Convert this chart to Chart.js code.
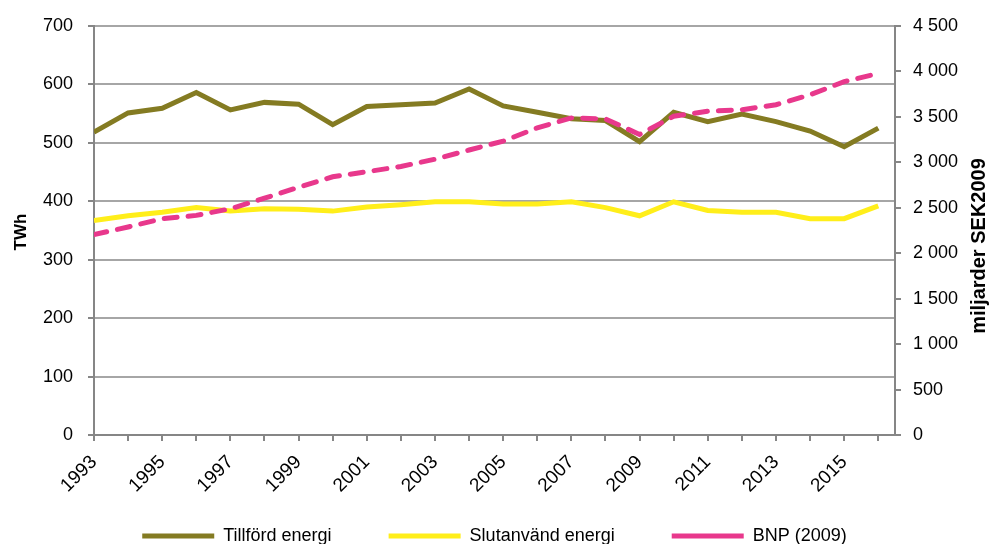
<!DOCTYPE html>
<html>
<head>
<meta charset="utf-8">
<script src="https://cdn.jsdelivr.net/npm/chart.js@4"></script>
<style>
  html, body { margin: 0; padding: 0; background: #fff; }
  #wrap { width: 989px; height: 544px; }
</style>
</head>
<body>
<div id="wrap"><canvas id="energiChart" width="989" height="544"></canvas></div>
<script>
const years = [1993, 1994, 1995, 1996, 1997, 1998, 1999, 2000, 2001, 2002, 2003, 2004,
               2005, 2006, 2007, 2008, 2009, 2010, 2011, 2012, 2013, 2014, 2015, 2016];

// TWh
const tillford = [518, 551, 559, 586, 556, 569, 566, 531, 562, 565, 568, 592,
                  563, 552, 541, 538, 502, 552, 536, 549, 536, 520, 493, 525];
const slutanvand = [367, 375, 381, 389, 383, 387, 386, 383, 390, 394, 399, 399,
                    395, 395, 399, 389, 375, 399, 384, 381, 381, 370, 370, 392];

// miljarder SEK2009
const bnp = [2204, 2288, 2378, 2415, 2488, 2604, 2724, 2840, 2895, 2953, 3033, 3134,
             3232, 3378, 3487, 3476, 3305, 3505, 3560, 3577, 3632, 3741, 3886, 3975];

const seriesNames = ['Tillförd energi', 'Slutanvänd energi', 'BNP (2009)'];

const gridGray = '#a6a6a6';
const axisGray = '#868686';
const textFont = { family: '"Liberation Sans", Arial, sans-serif', size: 18 };

function pts(vals) {
    return vals.map((v, i) => ({ x: years[i], y: v }));
}

function sekFormat(v) {
    if (v < 1000) return String(v);
    return Math.floor(v / 1000) + ' ' + String(v % 1000).padStart(3, '0');
}

function drawRotated(ctx, text, font, x, y) {
    ctx.save();
    ctx.fillStyle = '#000';
    ctx.font = font;
    ctx.textAlign = 'center';
    ctx.textBaseline = 'middle';
    ctx.translate(x, y);
    ctx.rotate(-Math.PI / 2);
    ctx.fillText(text, 0, 0);
    ctx.restore();
}

// axis titles drawn by hand so the right one reads bottom-to-top like the original
const axisTitles = {
    id: 'axisTitles',
    beforeLayout(chart) {
        // fix legend box height once
        if (!chart.legend._patched) {
            const fit = chart.legend.fit;
            chart.legend.fit = function () {
                fit.call(this);
                this.height = 74;
            };
            chart.legend._patched = true;
        }
    },
    beforeDraw(chart) {
        // let the rotated year labels run below the x axis box
        chart.scales.x._computeLabelArea = () => undefined;
    },
    afterDraw(chart) {
        const ctx = chart.ctx;
        drawRotated(ctx, 'TWh', 'bold 17px "Liberation Sans", Arial, sans-serif', 21, 232);
        drawRotated(ctx, 'miljarder SEK2009', 'bold 20px "Liberation Sans", Arial, sans-serif', 979, 246);
    }
};

const ctx = document.getElementById('energiChart').getContext('2d');
const energiChart = new Chart(ctx, {
    type: 'line',
    data: {
        datasets: [{
            label: seriesNames[0],
            data: pts(tillford),
            borderColor: '#847b22',
            backgroundColor: '#847b22',
            borderWidth: 5,
            yAxisID: 'y',
            order: 1
        }, {
            label: seriesNames[1],
            data: pts(slutanvand),
            borderColor: '#ffee1a',
            backgroundColor: '#ffee1a',
            borderWidth: 5,
            yAxisID: 'y',
            order: 2
        }, {
            label: seriesNames[2],
            data: pts(bnp),
            borderColor: '#e8388c',
            backgroundColor: '#e8388c',
            borderWidth: 5,
            borderDash: [13, 11],
            borderCapStyle: 'round',
            yAxisID: 'y1',
            order: 0
        }]
    },
    options: {
        responsive: false,
        animation: false,
        maintainAspectRatio: false,
        layout: { padding: { top: 19, left: 0, right: 0, bottom: 0 } },
        elements: {
            point: { radius: 0, hoverRadius: 0 },
            line: { tension: 0, borderJoinStyle: 'miter' }
        },
        scales: {
            x: {
                type: 'linear',
                min: 1993,
                max: 2016.49,
                afterBuildTicks: (scale) => {
                    scale.ticks = years.map(y => ({ value: y }));
                },
                afterFit: (scale) => { scale.height = 35; },
                ticks: {
                    autoSkip: false,
                    minRotation: 45,
                    maxRotation: 45,
                    padding: 10,
                    color: '#000',
                    font: { family: textFont.family, size: 19 },
                    callback: (v) => (v % 2 === 1 ? String(v) : '')
                },
                grid: {
                    drawOnChartArea: false,
                    drawTicks: true,
                    tickLength: 6,
                    color: axisGray,
                    lineWidth: 2
                },
                border: { color: axisGray, width: 2 }
            },
            y: {
                position: 'left',
                min: 0,
                max: 700,
                afterFit: (scale) => { scale.width = 94; },
                ticks: {
                    stepSize: 100,
                    padding: 15,
                    color: '#000',
                    font: textFont
                },
                grid: {
                    color: gridGray,
                    lineWidth: 2,
                    tickLength: 6,
                    tickColor: axisGray
                },
                border: { color: axisGray, width: 2 }
            },
            y1: {
                position: 'right',
                min: 0,
                max: 4500,
                afterFit: (scale) => { scale.width = 94; },
                ticks: {
                    stepSize: 500,
                    padding: 12,
                    color: '#000',
                    font: textFont,
                    callback: (v) => sekFormat(v)
                },
                grid: {
                    drawOnChartArea: false,
                    tickLength: 6,
                    color: axisGray,
                    lineWidth: 2
                },
                border: { color: axisGray, width: 2 }
            }
        },
        plugins: {
            legend: {
                position: 'bottom',
                labels: {
                    usePointStyle: true,
                    pointStyle: 'line',
                    pointStyleWidth: 72,
                    padding: 57,
                    color: '#000',
                    font: textFont,
                    sort: (a, b) => a.datasetIndex - b.datasetIndex
                }
            },
            tooltip: { enabled: false }
        }
    },
    plugins: [axisTitles]
});
</script>
</body>
</html>
